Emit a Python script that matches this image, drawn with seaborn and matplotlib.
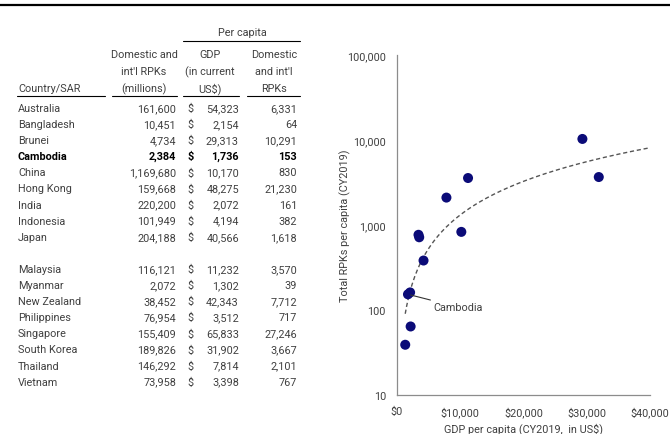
import numpy as np
import matplotlib
matplotlib.use("Agg")
import matplotlib.pyplot as plt
import matplotlib.ticker as mticker
import seaborn as sns

sns.set_style("white")
plt.rcParams['font.family'] = ['Roboto', 'DejaVu Sans']

# table data
countries = ["Australia", "Bangladesh", "Brunei", "Cambodia", "China", "Hong Kong",
             "India", "Indonesia", "Japan", "Malaysia", "Myanmar", "New Zealand",
             "Philippines", "Singapore", "South Korea", "Thailand", "Vietnam"]
rpk_millions = [161600, 10451, 4734, 2384, 1169680, 159668, 220200, 101949, 204188,
                116121, 2072, 38452, 76954, 155409, 189826, 146292, 73958]
gdp_pc = [54323, 2154, 29313, 1736, 10170, 48275, 2072, 4194, 40566,
          11232, 1302, 42343, 3512, 65833, 31902, 7814, 3398]
rpk_pc = [6331, 64, 10291, 153, 830, 21230, 161, 382, 1618,
          3570, 39, 7712, 717, 27246, 3667, 2101, 767]

W, H = 670, 435
fig = plt.figure(figsize=(W / 100, H / 100), dpi=100)
txt = "#404040"
fs = 7.8

def fx(px):
    return px / W

def fy(py):
    return 1 - py / H

def hline(x0, x1, y, lw=0.8, color="black"):
    fig.add_artist(plt.Line2D([fx(x0), fx(x1)], [fy(y), fy(y)], color=color, lw=lw))

# top rule
hline(0, W, 6, lw=1.6)

# headers
fig.text(fx(242), fy(33), "Per capita", ha="center", va="center", fontsize=fs, color=txt)
hline(183, 300, 42)
for i, (a, b, c) in enumerate([("Domestic and", "GDP", "Domestic"),
                               ("int'l RPKs", "(in current", "and int'l"),
                               ("(millions)", "US$)", "RPKs")]):
    y = 55 + i * 17
    fig.text(fx(144), fy(y), a, ha="center", va="center", fontsize=fs, color=txt)
    fig.text(fx(210), fy(y), b, ha="center", va="center", fontsize=fs, color=txt)
    fig.text(fx(274), fy(y), c, ha="center", va="center", fontsize=fs, color=txt)
fig.text(fx(18), fy(89), "Country/SAR", ha="left", va="center", fontsize=fs, color=txt)
hline(17, 105, 97)
hline(112, 177, 97)
hline(183, 239, 97)
hline(247, 300, 97)

# rows
for i, name in enumerate(countries):
    row = i if i < 9 else i + 1
    y = 109 + row * 16.1
    bold = name == "Cambodia"
    kw = dict(va="center", fontsize=fs, color="black" if bold else txt,
              fontweight="bold" if bold else "normal")
    fig.text(fx(18), fy(y), name, ha="left", **kw)
    fig.text(fx(176), fy(y), f"{rpk_millions[i]:,}", ha="right", **kw)
    fig.text(fx(187), fy(y), "$", ha="left", **kw)
    fig.text(fx(239), fy(y), f"{gdp_pc[i]:,}", ha="right", **kw)
    fig.text(fx(297), fy(y), f"{rpk_pc[i]:,}", ha="right", **kw)

# scatter (points beyond the axis maximum are not shown)
xmax = 40000
ax = fig.add_axes([fx(397), fy(396), fx(650) - fx(397), fy(56) - fy(396)])
vis = [(g, r) for g, r in zip(gdp_pc, rpk_pc) if g <= xmax]
sns.scatterplot(x=[v[0] for v in vis], y=[v[1] for v in vis], ax=ax, color="#0b0b78",
                s=52, edgecolor="none", zorder=3)

# power trend line fitted on all the data
b, a = np.polyfit(np.log10(gdp_pc), np.log10(rpk_pc), 1)
xs = np.linspace(min(gdp_pc), max(gdp_pc), 300)
ax.plot(xs, 10 ** (a + b * np.log10(xs)), ls=(0, (3, 2)), color="#555555", lw=1.0, zorder=2)

ax.set_yscale("log")
ax.set_ylim(10, 100000)
ax.set_xlim(0, xmax)
ax.set_xticks([0, 10000, 20000, 30000, 40000])
ax.xaxis.set_major_formatter(mticker.FuncFormatter(lambda v, p: f"${v:,.0f}"))
ax.yaxis.set_major_locator(mticker.LogLocator(base=10, numticks=10))
ax.yaxis.set_minor_locator(mticker.NullLocator())
ax.yaxis.set_major_formatter(mticker.FuncFormatter(lambda v, p: f"{v:,.0f}"))
ax.tick_params(axis="both", length=0, labelsize=fs, labelcolor=txt, pad=8)
sns.despine(ax=ax)
for s in ["left", "bottom"]:
    ax.spines[s].set_color("#8c8c8c")
    ax.spines[s].set_linewidth(0.9)
ax.set_xlabel("GDP per capita (CY2019,  in US$)", fontsize=fs, color=txt, labelpad=4)
ax.set_ylabel("Total RPKs per capita (CY2019)", fontsize=fs, color=txt, labelpad=-3)

ci = countries.index("Cambodia")
ax.annotate("Cambodia", xy=(gdp_pc[ci], rpk_pc[ci]), xytext=(5800, 108),
            fontsize=fs, color=txt, ha="left", va="center",
            arrowprops=dict(arrowstyle="-", color="#333333", lw=0.8, shrinkA=0, shrinkB=2))

fig.savefig("out.png", dpi=100)
